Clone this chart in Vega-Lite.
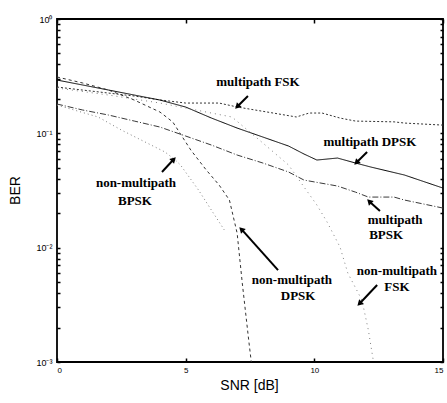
{
  "$schema": "https://vega.github.io/schema/vega-lite/v6.json",
  "width": 386,
  "height": 343,
  "autosize": "none",
  "padding": {"left": 57, "top": 19, "right": 4, "bottom": 41},
  "background": "white",
  "config": {
    "view": {"stroke": "black", "strokeWidth": 1.8},
    "axis": {"grid": false, "domain": false, "tickColor": "black", "tickWidth": 1.5, "labelColor": "black", "titleColor": "black", "labelFont": "Liberation Sans", "titleFont": "Liberation Sans", "titleFontWeight": "normal"}
  },
  "datasets": {
    "curves": [
      {"series": "mFSK", "snr": 0, "ber": 0.254}, {"series": "mFSK", "snr": 1, "ber": 0.239}, {"series": "mFSK", "snr": 2, "ber": 0.225}, {"series": "mFSK", "snr": 3, "ber": 0.212}, {"series": "mFSK", "snr": 4, "ber": 0.196}, {"series": "mFSK", "snr": 5, "ber": 0.184}, {"series": "mFSK", "snr": 5.6, "ber": 0.184}, {"series": "mFSK", "snr": 6.3, "ber": 0.184}, {"series": "mFSK", "snr": 7, "ber": 0.17}, {"series": "mFSK", "snr": 8.4, "ber": 0.1505}, {"series": "mFSK", "snr": 9.3, "ber": 0.139}, {"series": "mFSK", "snr": 9.8, "ber": 0.1505}, {"series": "mFSK", "snr": 10.3, "ber": 0.1505}, {"series": "mFSK", "snr": 11, "ber": 0.136}, {"series": "mFSK", "snr": 11.6, "ber": 0.128}, {"series": "mFSK", "snr": 13.1, "ber": 0.126}, {"series": "mFSK", "snr": 13.5, "ber": 0.123}, {"series": "mFSK", "snr": 15, "ber": 0.118},
      {"series": "mDPSK", "snr": 0, "ber": 0.2925}, {"series": "mDPSK", "snr": 1, "ber": 0.2646}, {"series": "mDPSK", "snr": 2, "ber": 0.2392}, {"series": "mDPSK", "snr": 3, "ber": 0.2163}, {"series": "mDPSK", "snr": 3.6, "ber": 0.2036}, {"series": "mDPSK", "snr": 4, "ber": 0.1956}, {"series": "mDPSK", "snr": 5, "ber": 0.1698}, {"series": "mDPSK", "snr": 6, "ber": 0.1361}, {"series": "mDPSK", "snr": 7, "ber": 0.1112}, {"series": "mDPSK", "snr": 8, "ber": 0.0928}, {"series": "mDPSK", "snr": 9, "ber": 0.0774}, {"series": "mDPSK", "snr": 9.6, "ber": 0.0659}, {"series": "mDPSK", "snr": 10.1, "ber": 0.0584}, {"series": "mDPSK", "snr": 10.9, "ber": 0.0608}, {"series": "mDPSK", "snr": 11.6, "ber": 0.055}, {"series": "mDPSK", "snr": 12.2, "ber": 0.0507}, {"series": "mDPSK", "snr": 13.5, "ber": 0.0432}, {"series": "mDPSK", "snr": 15, "ber": 0.0332},
      {"series": "mBPSK", "snr": 0, "ber": 0.1804}, {"series": "mBPSK", "snr": 1, "ber": 0.1599}, {"series": "mBPSK", "snr": 2, "ber": 0.1446}, {"series": "mBPSK", "snr": 3, "ber": 0.1281}, {"series": "mBPSK", "snr": 4, "ber": 0.1135}, {"series": "mBPSK", "snr": 5, "ber": 0.0947}, {"series": "mBPSK", "snr": 6, "ber": 0.079}, {"series": "mBPSK", "snr": 7, "ber": 0.0646}, {"series": "mBPSK", "snr": 8, "ber": 0.055}, {"series": "mBPSK", "snr": 9, "ber": 0.0459}, {"series": "mBPSK", "snr": 9.6, "ber": 0.039}, {"series": "mBPSK", "snr": 10.9, "ber": 0.0346}, {"series": "mBPSK", "snr": 11.6, "ber": 0.0306}, {"series": "mBPSK", "snr": 12.1, "ber": 0.0277}, {"series": "mBPSK", "snr": 13.1, "ber": 0.0277}, {"series": "mBPSK", "snr": 13.5, "ber": 0.0261}, {"series": "mBPSK", "snr": 15, "ber": 0.0222},
      {"series": "nBPSK", "snr": 0, "ber": 0.1768}, {"series": "nBPSK", "snr": 1.6, "ber": 0.1389}, {"series": "nBPSK", "snr": 2.5, "ber": 0.1069}, {"series": "nBPSK", "snr": 3.5, "ber": 0.0823}, {"series": "nBPSK", "snr": 4.2, "ber": 0.0686}, {"series": "nBPSK", "snr": 4.6, "ber": 0.0584}, {"series": "nBPSK", "snr": 4.8, "ber": 0.0528}, {"series": "nBPSK", "snr": 5.5, "ber": 0.0319}, {"series": "nBPSK", "snr": 6, "ber": 0.0213}, {"series": "nBPSK", "snr": 6.5, "ber": 0.0143},
      {"series": "nDPSK", "snr": 0, "ber": 0.311}, {"series": "nDPSK", "snr": 1, "ber": 0.2755}, {"series": "nDPSK", "snr": 2, "ber": 0.2392}, {"series": "nDPSK", "snr": 3, "ber": 0.1956}, {"series": "nDPSK", "snr": 4, "ber": 0.1536}, {"series": "nDPSK", "snr": 4.5, "ber": 0.1256}, {"series": "nDPSK", "snr": 5.2, "ber": 0.0714}, {"series": "nDPSK", "snr": 5.8, "ber": 0.0478}, {"series": "nDPSK", "snr": 6.3, "ber": 0.0353}, {"series": "nDPSK", "snr": 6.7, "ber": 0.0261}, {"series": "nDPSK", "snr": 7, "ber": 0.0134}, {"series": "nDPSK", "snr": 7.2, "ber": 0.0049}, {"series": "nDPSK", "snr": 7.45, "ber": 0.00155}, {"series": "nDPSK", "snr": 7.55, "ber": 0.001},
      {"series": "nFSK", "snr": 0, "ber": 0.249}, {"series": "nFSK", "snr": 2, "ber": 0.2163}, {"series": "nFSK", "snr": 4, "ber": 0.1841}, {"series": "nFSK", "snr": 5, "ber": 0.1665}, {"series": "nFSK", "snr": 6, "ber": 0.1505}, {"series": "nFSK", "snr": 6.8, "ber": 0.1389}, {"series": "nFSK", "snr": 8, "ber": 0.0823}, {"series": "nFSK", "snr": 9, "ber": 0.0528}, {"series": "nFSK", "snr": 9.6, "ber": 0.0339}, {"series": "nFSK", "snr": 10.1, "ber": 0.0236}, {"series": "nFSK", "snr": 10.5, "ber": 0.0167}, {"series": "nFSK", "snr": 11, "ber": 0.0101}, {"series": "nFSK", "snr": 11.3, "ber": 0.006}, {"series": "nFSK", "snr": 11.85, "ber": 0.00348}, {"series": "nFSK", "snr": 12.1, "ber": 0.0019}, {"series": "nFSK", "snr": 12.3, "ber": 0.001}
    ],
    "labels": [
      {"label": "multipath FSK", "snr": 7.81, "ber": 0.281},
      {"label": "multipath DPSK", "snr": 12.16, "ber": 0.0839},
      {"label": "non-multipath", "snr": 3.07, "ber": 0.0367},
      {"label": "BPSK", "snr": 3.03, "ber": 0.0256},
      {"label": "non-multipath", "snr": 9.13, "ber": 0.00521},
      {"label": "DPSK", "snr": 9.37, "ber": 0.00377},
      {"label": "multipath", "snr": 13.14, "ber": 0.01744},
      {"label": "BPSK", "snr": 12.79, "ber": 0.01289},
      {"label": "non-multipath", "snr": 13.21, "ber": 0.00624},
      {"label": "FSK", "snr": 13.21, "ber": 0.00452}
    ],
    "arrows": [
      {"arrow": "mFSK", "sx": 7.42, "sy": 0.212, "tx": 7.03, "ty": 0.1733},
      {"arrow": "mDPSK", "sx": 12.05, "sy": 0.0686, "tx": 11.66, "ty": 0.0561},
      {"arrow": "nBPSK", "sx": 4.08, "sy": 0.0459, "tx": 4.51, "ty": 0.0584},
      {"arrow": "nDPSK", "sx": 8.59, "sy": 0.00637, "tx": 7.19, "ty": 0.0143},
      {"arrow": "mBPSK", "sx": 12.55, "sy": 0.0209, "tx": 12.16, "ty": 0.0251},
      {"arrow": "nFSK", "sx": 12.44, "sy": 0.00471, "tx": 11.78, "ty": 0.00328}
    ]
  },
  "layer": [
    {
      "data": {"name": "curves"},
      "mark": {"type": "line", "strokeWidth": 1, "clip": true},
      "encoding": {
        "x": {"field": "snr", "type": "quantitative", "scale": {"domain": [0, 15], "nice": false, "zero": false},
          "axis": {"orient": "bottom", "values": [0, 5, 10, 15], "tickSize": -4, "labelFontSize": 8, "labelPadding": 8, "title": "SNR [dB]", "titleFontSize": 14, "titleX": 192, "titleY": 23, "titleBaseline": "middle", "titleAlign": "center"}},
        "y": {"field": "ber", "type": "quantitative", "scale": {"type": "log", "domain": [0.001, 1], "nice": false},
          "axis": {"orient": "left", "values": [0.001, 0.002, 0.003, 0.004, 0.005, 0.006, 0.007, 0.008, 0.009, 0.01, 0.02, 0.03, 0.04, 0.05, 0.06, 0.07, 0.08, 0.09, 0.1, 0.2, 0.3, 0.4, 0.5, 0.6, 0.7, 0.8, 0.9, 1],
            "labelExpr": "datum.value == 1 ? '10⁰' : datum.value == 0.1 ? '10⁻¹' : datum.value == 0.01 ? '10⁻²' : datum.value == 0.001 ? '10⁻³' : ''",
            "labelOverlap": false, "tickSize": -3, "labelFontSize": 9, "labelPadding": 8, "title": "BER", "titleFontSize": 14, "titleX": -42, "titleY": 171, "titleBaseline": "middle", "titleAlign": "center"}},
        "color": {"field": "series", "type": "nominal", "legend": null, "scale": {"domain": ["mFSK", "mDPSK", "mBPSK", "nBPSK", "nDPSK", "nFSK"], "range": ["#333333", "#000000", "#3a3a3a", "#808080", "#333333", "#808080"]}},
        "strokeDash": {"field": "series", "type": "nominal", "legend": null, "scale": {"domain": ["mFSK", "mDPSK", "mBPSK", "nBPSK", "nDPSK", "nFSK"], "range": [[2, 2], [1, 0], [6, 2, 1, 2], [1, 3], [3, 3], [1, 4]]}}
      }
    },
    {
      "data": {"name": "arrows"},
      "mark": {"type": "rule", "strokeWidth": 2, "color": "black"},
      "encoding": {
        "x": {"field": "sx", "type": "quantitative", "axis": {"orient": "top", "values": [0, 5, 10, 15], "tickSize": -4, "labels": false, "title": null}},
        "y": {"field": "sy", "type": "quantitative", "axis": {"orient": "right", "values": [0.001, 0.002, 0.003, 0.004, 0.005, 0.006, 0.007, 0.008, 0.009, 0.01, 0.02, 0.03, 0.04, 0.05, 0.06, 0.07, 0.08, 0.09, 0.1, 0.2, 0.3, 0.4, 0.5, 0.6, 0.7, 0.8, 0.9, 1], "tickSize": -3, "labels": false, "title": null}},
        "x2": {"field": "tx"},
        "y2": {"field": "ty"}
      }
    },
    {
      "data": {"name": "arrows"},
      "transform": [{"filter": {"field": "arrow", "oneOf": ["mFSK", "mDPSK", "nFSK"]}}],
      "mark": {"type": "point", "shape": "triangle", "filled": true, "size": 45, "angle": 225, "color": "black", "opacity": 1},
      "encoding": {
        "x": {"field": "tx", "type": "quantitative", "axis": null},
        "y": {"field": "ty", "type": "quantitative", "axis": null}
      }
    },
    {
      "data": {"name": "arrows"},
      "transform": [{"filter": {"field": "arrow", "oneOf": ["nBPSK"]}}],
      "mark": {"type": "point", "shape": "triangle", "filled": true, "size": 45, "angle": 45, "color": "black", "opacity": 1},
      "encoding": {
        "x": {"field": "tx", "type": "quantitative", "axis": null},
        "y": {"field": "ty", "type": "quantitative", "axis": null}
      }
    },
    {
      "data": {"name": "arrows"},
      "transform": [{"filter": {"field": "arrow", "oneOf": ["nDPSK", "mBPSK"]}}],
      "mark": {"type": "point", "shape": "triangle", "filled": true, "size": 45, "angle": 315, "color": "black", "opacity": 1},
      "encoding": {
        "x": {"field": "tx", "type": "quantitative", "axis": null},
        "y": {"field": "ty", "type": "quantitative", "axis": null}
      }
    },
    {
      "data": {"name": "labels"},
      "mark": {"type": "text", "font": "Liberation Serif", "fontWeight": "bold", "fontSize": 13, "color": "black", "align": "center", "baseline": "middle"},
      "encoding": {
        "x": {"field": "snr", "type": "quantitative", "axis": null},
        "y": {"field": "ber", "type": "quantitative", "axis": null},
        "text": {"field": "label"}
      }
    }
  ],
  "resolve": {"axis": {"x": "independent", "y": "independent"}}
}
